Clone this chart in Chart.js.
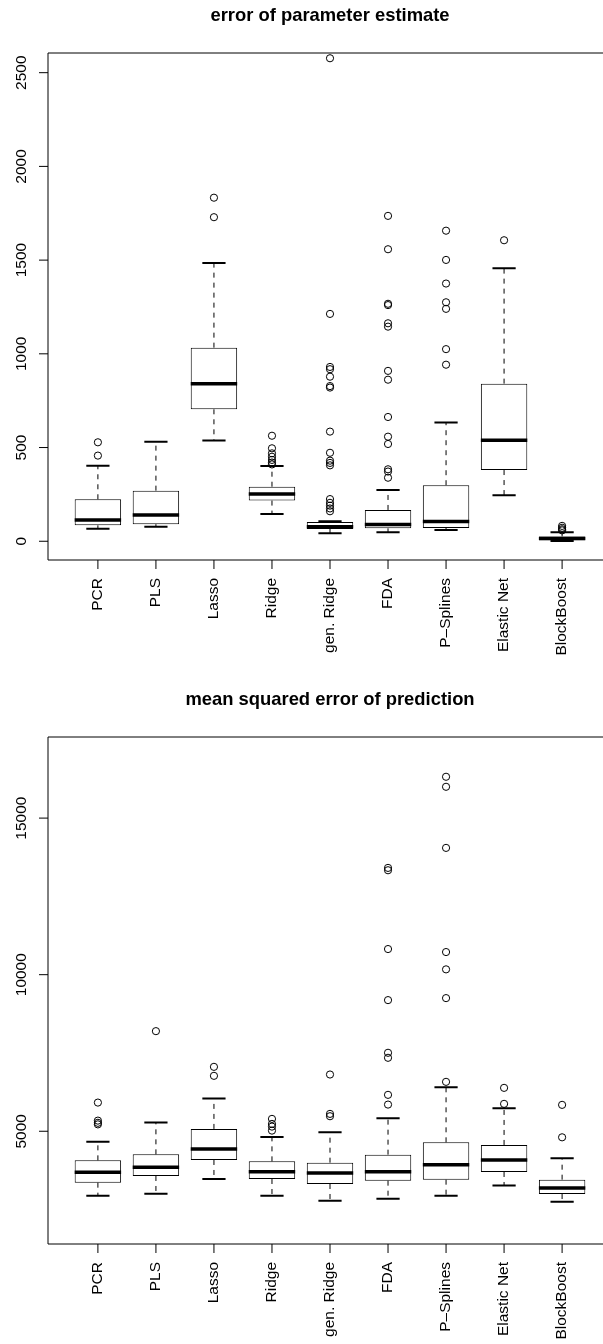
<!doctype html>
<html>

<head>
	<title>Boxplots</title>
	<script src="https://cdn.jsdelivr.net/npm/chart.js@4/dist/chart.umd.min.js"></script>
	<style>
	html, body {
		margin: 0;
		padding: 0;
		background: #fff;
		overflow: hidden;
	}
	.panel {
		position: absolute;
		left: 0;
	}
	</style>
</head>

<body>
	<div class="panel" style="top:0px"><canvas id="param" width="620" height="684"></canvas></div>
	<div class="panel" style="top:684px"><canvas id="pred" width="620" height="660"></canvas></div>
	<script>
		var methods = ['PCR', 'PLS', 'Lasso', 'Ridge', 'gen. Ridge', 'FDA', 'P\u2013Splines', 'Elastic Net', 'BlockBoost'];

		// error of parameter estimate
		var paramLow    = [67, 78, 537, 146, 43, 48, 60, 245, 1];
		var paramQ1     = [85, 91, 704, 217, 66, 69, 71, 380, 6];
		var paramMedian = [114, 140, 841, 252, 78, 89, 105, 539, 15];
		var paramQ3     = [224, 270, 1033, 291, 103, 167, 299, 841, 26];
		var paramHigh   = [403, 531, 1485, 402, 107, 274, 633, 1457, 48];
		var paramOutliers = [
			[457, 528],
			[],
			[1729, 1833],
			[563, 496, 469, 451, 434, 420, 410],
			[2577, 1213, 930, 918, 878, 828, 820, 585, 472, 430, 418, 405, 225, 205, 190, 175, 160],
			[1736, 1558, 1267, 1260, 1163, 1145, 909, 862, 663, 558, 519, 384, 372, 339],
			[1657, 1501, 1375, 1275, 1240, 1025, 942],
			[1606],
			[82, 72, 64, 58]
		];
		var paramTicks = [0, 500, 1000, 1500, 2000, 2500];

		// mean squared error of prediction
		var predLow    = [2942, 3006, 3476, 2942, 2782, 2846, 2942, 3272, 2750];
		var predQ1     = [3358, 3572, 4083, 3476, 3316, 3422, 3454, 3700, 2996];
		var predMedian = [3688, 3848, 4435, 3710, 3668, 3710, 3934, 4084, 3188];
		var predQ3     = [4071, 4263, 5075, 4039, 3997, 4253, 4647, 4563, 3454];
		var predHigh   = [4669, 5277, 6044, 4819, 4967, 5414, 6406, 5735, 4135];
		var predOutliers = [
			[5916, 5340, 5270, 5220],
			[8197],
			[7057, 6770],
			[5395, 5235, 5149, 5021],
			[6812, 5555, 5480],
			[13410, 13335, 10819, 9188, 7506, 7346, 6163, 5852],
			[16320, 16000, 14049, 10723, 10170, 9252, 6578],
			[6386, 5875],
			[5843, 4807]
		];
		var predTicks = [5000, 10000, 15000];

		var FONT = '"Liberation Sans", Arial, Helvetica, sans-serif';

		// whiskers, staples, medians and the R style axes
		var rBoxPlugin = {
			id: 'rBox',
			afterDatasetsDraw: function(chart) {
				var opt = chart.options.plugins.rBox;
				var x = chart.scales.x, y = chart.scales.y;
				var ctx = chart.ctx;
				var area = chart.chartArea;
				var unit = x.getPixelForValue(1) - x.getPixelForValue(0);
				var boxW = unit * 0.8;
				var stapleW = boxW * 0.5;
				ctx.save();
				ctx.strokeStyle = '#000';
				for (var i = 0; i < methods.length; i++) {
					var cx = x.getPixelForValue(i + 1);
					var yLo = y.getPixelForValue(opt.low[i]);
					var yQ1 = y.getPixelForValue(opt.q1[i]);
					var yMed = y.getPixelForValue(opt.median[i]);
					var yQ3 = y.getPixelForValue(opt.q3[i]);
					var yHi = y.getPixelForValue(opt.high[i]);

					// dashed whiskers
					ctx.lineWidth = 1;
					ctx.setLineDash([5, 5]);
					ctx.beginPath();
					ctx.moveTo(cx, yQ3);
					ctx.lineTo(cx, yHi);
					ctx.moveTo(cx, yQ1);
					ctx.lineTo(cx, yLo);
					ctx.stroke();
					ctx.setLineDash([]);

					// staples
					ctx.lineWidth = 2;
					ctx.beginPath();
					ctx.moveTo(cx - stapleW / 2, yHi);
					ctx.lineTo(cx + stapleW / 2, yHi);
					ctx.moveTo(cx - stapleW / 2, yLo);
					ctx.lineTo(cx + stapleW / 2, yLo);
					ctx.stroke();

					// median
					ctx.lineWidth = 3.5;
					ctx.beginPath();
					ctx.moveTo(cx - boxW / 2, yMed);
					ctx.lineTo(cx + boxW / 2, yMed);
					ctx.stroke();
				}

				// frame (left, top, bottom)
				ctx.lineWidth = 1;
				ctx.beginPath();
				ctx.moveTo(area.right, area.top);
				ctx.lineTo(area.left, area.top);
				ctx.lineTo(area.left, area.bottom);
				ctx.lineTo(area.right, area.bottom);
				ctx.stroke();

				// y axis ticks and labels
				ctx.fillStyle = '#000';
				ctx.font = '15.5px ' + FONT;
				opt.yTicks.forEach(function(v) {
					var py = y.getPixelForValue(v);
					ctx.beginPath();
					ctx.moveTo(area.left, py);
					ctx.lineTo(area.left - 9, py);
					ctx.stroke();
					ctx.save();
					ctx.translate(area.left - 22.5, py);
					ctx.rotate(-Math.PI / 2);
					ctx.textAlign = 'center';
					ctx.textBaseline = 'alphabetic';
					ctx.fillText(String(v), 0, 0);
					ctx.restore();
				});

				// x axis ticks and labels
				methods.forEach(function(name, i) {
					var px = x.getPixelForValue(i + 1);
					ctx.beginPath();
					ctx.moveTo(px, area.bottom);
					ctx.lineTo(px, area.bottom + 9);
					ctx.stroke();
					ctx.save();
					ctx.translate(px, area.bottom + 18);
					ctx.rotate(-Math.PI / 2);
					ctx.textAlign = 'right';
					ctx.textBaseline = 'middle';
					ctx.fillText(name, 0, 0);
					ctx.restore();
				});

				// title
				ctx.font = 'bold 18.4px ' + FONT;
				ctx.textAlign = 'center';
				ctx.textBaseline = 'alphabetic';
				ctx.fillText(opt.title, (area.left + area.right) / 2, 21);
				ctx.restore();
			}
		};

		function outlierPoints(outliers) {
			var pts = [];
			outliers.forEach(function(list, i) {
				list.forEach(function(v) {
					pts.push({ x: i + 1, y: v });
				});
			});
			return pts;
		}

		function makeBoxChart(id, title, low, q1, median, q3, high, outliers, yTicks, yMin, yMax, bottomPad) {
			var boxes = q1.map(function(v, i) {
				return { x: i + 1, y: [v, q3[i]] };
			});
			var ctx = document.getElementById(id).getContext('2d');
			return new Chart(ctx, {
				type: 'bar',
				data: {
					datasets: [{
						type: 'bar',
						data: boxes,
						backgroundColor: '#fff',
						borderColor: '#000',
						borderWidth: 1,
						borderSkipped: false,
						barPercentage: 0.8,
						categoryPercentage: 1,
						grouped: false
					}, {
						type: 'scatter',
						data: outlierPoints(outliers),
						pointStyle: 'circle',
						pointRadius: 3.6,
						pointBorderWidth: 1,
						pointBorderColor: '#000',
						pointBackgroundColor: 'rgba(0,0,0,0)',
						showLine: false
					}]
				},
				options: {
					responsive: false,
					animation: false,
					devicePixelRatio: 1,
					layout: {
						padding: { left: 48, top: 53, right: 8, bottom: bottomPad }
					},
					scales: {
						x: {
							type: 'linear',
							display: false,
							offset: false,
							min: 0.14,
							max: 9.86,
							ticks: { stepSize: 1, includeBounds: false }
						},
						y: {
							type: 'linear',
							display: false,
							min: yMin,
							max: yMax
						}
					},
					plugins: {
						legend: { display: false },
						tooltip: { enabled: false },
						rBox: {
							title: title,
							low: low, q1: q1, median: median, q3: q3, high: high,
							yTicks: yTicks
						}
					}
				},
				plugins: [rBoxPlugin]
			});
		}

		makeBoxChart('param', 'error of parameter estimate',
			paramLow, paramQ1, paramMedian, paramQ3, paramHigh, paramOutliers,
			paramTicks, -100, 2605, 124);
		makeBoxChart('pred', 'mean squared error of prediction',
			predLow, predQ1, predMedian, predQ3, predHigh, predOutliers,
			predTicks, 1400, 17590, 100);
	</script>
</body>

</html>
